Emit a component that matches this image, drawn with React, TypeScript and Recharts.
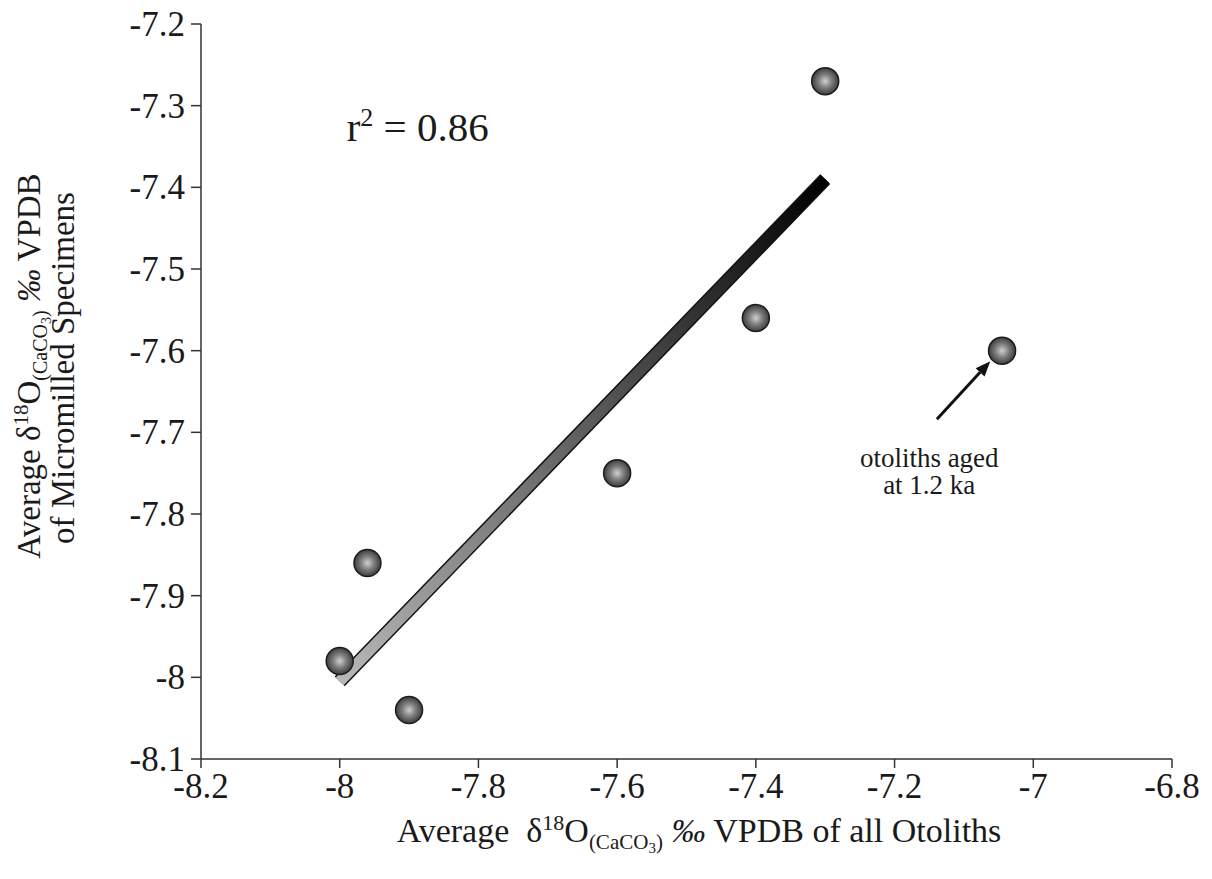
import React from 'react';
import { ScatterChart, Scatter, XAxis, YAxis, ReferenceLine, ReferenceDot } from 'recharts';

// otolith averages (x) vs micromilled specimen averages (y), per-mil VPDB
const otolithD18O = [-7.3, -7.4, -7.045, -7.6, -7.96, -8.0, -7.9];
const specimenD18O = [-7.27, -7.56, -7.6, -7.75, -7.86, -7.98, -8.04];

// regression line end points
const fitX = [-8.0, -7.3];
const fitY = [-8.005, -7.39];

const xTicks = [-8.2, -8, -7.8, -7.6, -7.4, -7.2, -7, -6.8];
const yTicks = [-8.1, -8, -7.9, -7.8, -7.7, -7.6, -7.5, -7.4, -7.3, -7.2];

const rSquaredText = 'r';
const rSquaredValue = ' = 0.86';
const noteLines = ['otoliths aged', 'at 1.2 ka'];

// annotation anchors in data units
const rSquaredAt = { x: -7.99, y: -7.343 };
const noteAt = { x: -7.15, y: -7.743 };
const arrowFrom = { x: -7.139, y: -7.684 };
const arrowTo = { x: -7.062, y: -7.613 };

const points = otolithD18O.map((x, i) => ({ x, y: specimenD18O[i] }));
const fitLine = fitX.map((x, i) => ({ x, y: fitY[i] }));

const FONT = '"Liberation Serif", "Times New Roman", serif';
const INK = '#1a1a1a';

const Sphere = (props: any) => {
    const { cx, cy } = props;
    if (cx == null || cy == null) return null;
    return <circle cx={cx} cy={cy} r={13.5} fill="url(#sphere)" stroke="#1c1c1c" strokeWidth={1.5} />;
};

const NoDot = () => <g />;

const XTick = (props: any) => (
    <text x={props.x} y={props.y} dy="0.71em" textAnchor="middle" fontSize={35} fill={INK} fontFamily={FONT}>
        {String(props.payload.value)}
    </text>
);

const YTick = (props: any) => (
    <text x={props.x} y={props.y} dy="0.34em" textAnchor="end" fontSize={35} fill={INK} fontFamily={FONT}>
        {String(props.payload.value)}
    </text>
);

const XTitle = () => (
    <text x={699} y={842} textAnchor="middle" fontSize={34} fill={INK} fontFamily={FONT}>
        Average{'\u00a0\u00a0'}δ
        <tspan dy={-12} fontSize={22}>18</tspan>
        <tspan dy={12}>O</tspan>
        <tspan dy={7} fontSize={21}>(CaCO</tspan>
        <tspan dy={4} fontSize={15}>3</tspan>
        <tspan dy={-4} fontSize={21}>)</tspan>
        <tspan dy={-7}>{'\u00a0'}</tspan>
        <tspan fontStyle="italic">‰</tspan>
        <tspan> VPDB of all Otoliths</tspan>
    </text>
);

const YTitle = () => (
    <g fontFamily={FONT} fill={INK} fontSize={33}>
        <text transform="rotate(-90)" x={-366} y={40} textAnchor="middle">
            Average δ
            <tspan dy={-12} fontSize={21}>18</tspan>
            <tspan dy={12}>O</tspan>
            <tspan dy={7} fontSize={20}>(CaCO</tspan>
            <tspan dy={4} fontSize={14}>3</tspan>
            <tspan dy={-4} fontSize={20}>)</tspan>
            <tspan dy={-7}>{'\u00a0'}</tspan>
            <tspan fontStyle="italic">‰</tspan>
            <tspan> VPDB</tspan>
        </text>
        <text transform="rotate(-90)" x={-368} y={74} textAnchor="middle">
            of Micromilled Specimens
        </text>
    </g>
);

const Arrow = (props: any) => {
    const { x1, y1, x2, y2 } = props;
    if (x1 == null) return null;
    const ang = Math.atan2(y2 - y1, x2 - x1);
    const len = 15;
    const half = 6;
    const bx = x2 - len * Math.cos(ang);
    const by = y2 - len * Math.sin(ang);
    const px = -Math.sin(ang) * half;
    const py = Math.cos(ang) * half;
    return (
        <g>
            <line x1={x1} y1={y1} x2={bx} y2={by} stroke="#111" strokeWidth={3} />
            <polygon points={`${x2},${y2} ${bx + px},${by + py} ${bx - px},${by - py}`} fill="#111" />
        </g>
    );
};

const RSquared = (props: any) => (
    <text x={props.cx} y={props.cy} fontSize={41} fill={INK} fontFamily={FONT}>
        {rSquaredText}
        <tspan dy={-15} fontSize={26}>2</tspan>
        <tspan dy={15}>{rSquaredValue}</tspan>
    </text>
);

const Note = (props: any) => (
    <g fontSize={27} fill={INK} fontFamily={FONT}>
        {noteLines.map((t, i) => (
            <text key={i} x={props.cx} y={props.cy + i * 27} textAnchor="middle">{t}</text>
        ))}
    </g>
);

export default function App() {
    return (
        <div style={{ position: 'absolute', left: 0, top: 0, width: 1212, height: 879, background: '#fff', fontFamily: FONT }}>
            <ScatterChart width={1212} height={879} margin={{ top: 24, right: 40, bottom: 0, left: 0 }}>
                <defs>
                    <radialGradient id="sphere" cx="50%" cy="50%" r="55%">
                        <stop offset="0%" stopColor="#d0d0d0" />
                        <stop offset="45%" stopColor="#7e7e7e" />
                        <stop offset="100%" stopColor="#303030" />
                    </radialGradient>
                    <linearGradient id="fitGrad" x1="0" y1="1" x2="1" y2="0">
                        <stop offset="0%" stopColor="#b8b8b8" />
                        <stop offset="55%" stopColor="#555555" />
                        <stop offset="100%" stopColor="#000000" />
                    </linearGradient>
                </defs>
                <XAxis
                    type="number"
                    dataKey="x"
                    domain={[-8.2, -6.8]}
                    ticks={xTicks}
                    allowDataOverflow
                    height={120}
                    axisLine={{ stroke: '#333', strokeWidth: 1.5 }}
                    tickLine={{ stroke: '#333', strokeWidth: 1.5 }}
                    tickSize={9}
                    tickMargin={5}
                    tick={<XTick />}
                    label={<XTitle />}
                />
                <YAxis
                    type="number"
                    dataKey="y"
                    domain={[-8.1, -7.2]}
                    ticks={yTicks}
                    allowDataOverflow
                    width={201}
                    axisLine={{ stroke: '#333', strokeWidth: 1.5 }}
                    tickLine={{ stroke: '#333', strokeWidth: 1.5 }}
                    tickSize={10}
                    tickMargin={6}
                    tick={<YTick />}
                    label={<YTitle />}
                />
                <Scatter
                    data={fitLine}
                    line={{ stroke: '#111', strokeWidth: 14 }}
                    shape={NoDot}
                    isAnimationActive={false}
                />
                <Scatter
                    data={fitLine}
                    line={{ stroke: 'url(#fitGrad)', strokeWidth: 11 }}
                    shape={NoDot}
                    isAnimationActive={false}
                />
                <Scatter data={points} shape={Sphere} isAnimationActive={false} />
                <ReferenceLine
                    segment={[arrowFrom, arrowTo]}
                    shape={Arrow}
                />
                <ReferenceDot x={rSquaredAt.x} y={rSquaredAt.y} r={0} shape={RSquared} />
                <ReferenceDot x={noteAt.x} y={noteAt.y} r={0} shape={Note} />
            </ScatterChart>
        </div>
    );
}
